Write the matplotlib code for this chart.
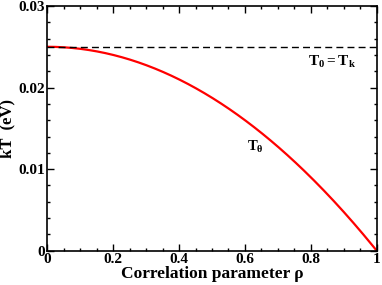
import numpy as np
import matplotlib
matplotlib.use("Agg")
import matplotlib.pyplot as plt
from matplotlib.ticker import MultipleLocator
from numpy.polynomial import polynomial as P

plt.rcParams['font.family'] = ['Liberation Serif', 'DejaVu Serif']
plt.rcParams['font.weight'] = 'bold'
plt.rcParams['mathtext.fontset'] = 'custom'
plt.rcParams['mathtext.rm'] = 'Liberation Serif:bold'
plt.rcParams['mathtext.it'] = 'Liberation Serif:bold'
plt.rcParams['mathtext.bf'] = 'Liberation Serif:bold'

# values
rho = [0.0, 0.1, 0.2, 0.3, 0.4, 0.5, 0.6, 0.7, 0.8, 0.9, 1.0]
kT_theta = [0.025, 0.02475, 0.024, 0.02275, 0.021, 0.01875, 0.016, 0.01275, 0.009, 0.00475, 0.0]
kT_0 = 0.025

xticks = [0, 0.2, 0.4, 0.6, 0.8, 1]
xticklabels = ['0', '0.2', '0.4', '0.6', '0.8', '1']
yticks = [0, 0.01, 0.02, 0.03]
yticklabels = ['0', '0.01', '0.02', '0.03']

fig = plt.figure(figsize=(3.82, 2.85), dpi=100)
ax = fig.add_axes([47.3/382, 1 - 250.7/285, 329.4/382, 244.7/285])

# smooth curve through the read points
xs = np.linspace(0, 1, 200)
coef = P.polyfit(rho, kT_theta, 3)
ax.plot(xs, P.polyval(xs, coef), color='red', lw=1.6)
ax.axhline(kT_0, color='black', lw=1.0, ls=(0, (5, 3)))

ax.text(0.79, 0.0231, r'$\mathrm{T}_0 = \mathrm{T}_k$', fontsize=11, va='center', ha='left')
ax.text(0.605, 0.0127, r'$\mathrm{T}_\theta$', fontsize=10.5, va='center', ha='left')

ax.set_xlim(0, 1)
ax.set_ylim(0, 0.03)
ax.set_xticks(xticks)
ax.set_xticklabels(xticklabels)
ax.set_yticks(yticks)
ax.set_yticklabels(yticklabels)
ax.xaxis.set_minor_locator(MultipleLocator(0.05))
ax.yaxis.set_minor_locator(MultipleLocator(0.002))
ax.tick_params(which='both', direction='in', top=True, right=True, width=1.0, labelsize=11, pad=1.5)
ax.tick_params(which='major', length=5)
ax.tick_params(which='minor', length=2.5)
for s in ax.spines.values():
    s.set_linewidth(1.2)

ax.set_xlabel('Correlation parameter ρ', fontsize=12.5, fontweight='bold', labelpad=0)
ax.set_ylabel('kT  (eV)', fontsize=12, fontweight='bold')
ax.yaxis.set_label_coords(-0.097, 0.5)

fig.savefig('out.png', dpi=100)
